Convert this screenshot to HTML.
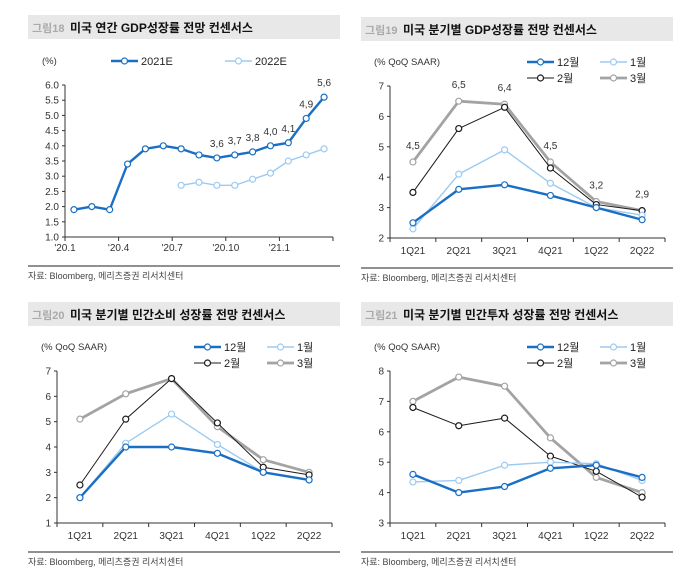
<!DOCTYPE html>
<html><head><meta charset="utf-8">
<style>
body{margin:0;background:#fff;}
svg{display:block;font-family:"Liberation Sans","Noto Sans CJK KR",sans-serif;}
</style></head>
<body>
<svg id="c" width="695" height="588" viewBox="0 0 695 588"></svg>
<script>
// Chart 18: annual GDP growth consensus
const c18Months = ["'20.1","","","'20.4","","","'20.7","","","'20.10","","","'21.1","",""];
const c18y2021 = [1.9,2.0,1.9,3.4,3.9,4.0,3.9,3.7,3.6,3.7,3.8,4.0,4.1,4.9,5.6];
const c18y2022 = [null,null,null,null,null,null,2.7,2.8,2.7,2.7,2.9,3.1,3.5,3.7,3.9];
const c18Labels = ["","","","","","","","","3,6","3,7","3,8","4,0","4,1","4,9","5,6"];
const c18Ticks = [1.0,1.5,2.0,2.5,3.0,3.5,4.0,4.5,5.0,5.5,6.0];
// Quarterly charts
const quarters = ["1Q21","2Q21","3Q21","4Q21","1Q22","2Q22"];
const c19Dec = [2.5,3.6,3.75,3.4,3.0,2.6];
const c19Jan = [2.3,4.1,4.9,3.8,3.0,2.75];
const c19Feb = [3.5,5.6,6.3,4.3,3.1,2.9];
const c19Mar = [4.5,6.5,6.4,4.5,3.2,2.9];
const c19Labels = ["4,5","6,5","6,4","4,5","3,2","2,9"];
const c19Ticks = [2,3,4,5,6,7];
const c20Dec = [2.0,4.0,4.0,3.75,3.0,2.7];
const c20Jan = [2.0,4.15,5.3,4.1,3.0,2.7];
const c20Feb = [2.5,5.1,6.7,4.95,3.2,2.9];
const c20Mar = [5.1,6.1,6.7,4.8,3.5,3.0];
const c20Ticks = [1,2,3,4,5,6,7];
const c21Dec = [4.6,4.0,4.2,4.8,4.9,4.5];
const c21Jan = [4.35,4.4,4.9,5.0,4.95,4.4];
const c21Feb = [6.8,6.2,6.45,5.2,4.7,3.85];
const c21Mar = [7.0,7.8,7.5,5.8,4.5,4.0];
const c21Ticks = [3,4,5,6,7,8];

const NS="http://www.w3.org/2000/svg";
const svg=document.getElementById('c');
function el(tag,attrs,parent){const e=document.createElementNS(NS,tag);for(const k in attrs)e.setAttribute(k,attrs[k]);(parent||svg).appendChild(e);return e;}
function txt(x,y,s,attrs,parent){const t=el('text',Object.assign({x:x,y:y},attrs),parent);t.textContent=s;return t;}

const DB="#1a6fc4",LB="#9ccbf2",BK="#1a1a1a",GR="#a3a3a3";
const styles={dec:{c:DB,w:2.4},jan:{c:LB,w:1.4},feb:{c:BK,w:1},mar:{c:GR,w:2.8}};

function panel(name,x0,y0,num,title,srcY){
  const g=el('g',{});
  
  
  const bar=el('rect',{x:x0,y:y0,width:312,height:24,fill:'#e8e8e8'},g);
  
  
  const t1=txt(x0+4,y0+17,num,{'font-size':11,fill:'#aaa','font-weight':'bold'},g);
  
  
  const t2=txt(x0+42,y0+17,title,{'font-size':12,fill:'#111','font-weight':'bold'},g);
  
  
  const ln=el('line',{x1:x0,x2:x0+312,y1:srcY,y2:srcY,stroke:'#222','stroke-width':1},g);
  
  
  const s=txt(x0,srcY+13,'자료: Bloomberg, 메리츠증권 리서치센터',{'font-size':9,fill:'#444'},g);
  
  
  return g;
}

function axes(g,L,R,T,B,ymin,ymax,ticks,decimals,cats,tickIdx){
  const ys=v=>B-(v-ymin)/(ymax-ymin)*(B-T);
  const n=cats.length,bw=(R-L)/n;
  const xs=i=>L+bw*(i+0.5);
  el('line',{x1:L,x2:L,y1:T,y2:B,stroke:'#333','stroke-width':1},g);
  el('line',{x1:L,x2:R,y1:B,y2:B,stroke:'#333','stroke-width':1},g);
  ticks.forEach(v=>{
    el('line',{x1:L-3,x2:L,y1:ys(v),y2:ys(v),stroke:'#333'},g);
    const t=txt(L-6,ys(v)+3.5,v.toFixed(decimals),{'font-size':10,fill:'#333','text-anchor':'end'},g);
    
    
  });
  if(tickIdx){
    tickIdx.forEach(i=>{const x=L+bw*i;el('line',{x1:x,x2:x,y1:B,y2:B+4,stroke:'#333'},g);});
    cats.forEach((c,i)=>{if(c){const t=txt(L+bw*i,B+14,c,{'font-size':10,fill:'#333','text-anchor':'middle'},g);
      
      }});
  }else{
    for(let i=0;i<=n;i++){const x=L+bw*i;el('line',{x1:x,x2:x,y1:B,y2:B+4,stroke:'#333'},g);}
    cats.forEach((c,i)=>{const t=txt(xs(i),B+16,c,{'font-size':10,fill:'#333','text-anchor':'middle'},g);
      
      });
  }
  return {xs,ys};
}

function series(g,vals,st,xs,ys,name){
  const pts=[];vals.forEach((v,i)=>{if(v!=null)pts.push([xs(i),ys(v)]);});
  const p=el('polyline',{points:pts.map(p=>p.join(',')).join(' '),fill:'none',stroke:st.c,'stroke-width':st.w,'stroke-linejoin':'round'},g);
  
  
  pts.forEach(q=>{const m=el('circle',{cx:q[0],cy:q[1],r:3,fill:'#fff',stroke:st.c,'stroke-width':1.2},g);
    
    });
}

function legendItem(g,x,y,st,label,name){
  const lg=el('g',{},g);
  
  
  el('line',{x1:x,x2:x+27,y1:y,y2:y,stroke:st.c,'stroke-width':st.w},lg);
  el('circle',{cx:x+13.5,cy:y,r:3,fill:'#fff',stroke:st.c,'stroke-width':1.2},lg);
  txt(x+30,y+4,label,{'font-size':11,fill:'#222'},lg);
}

// ---- Chart 18
(function(){
  const g=panel('chart-annual-gdp',28,15,'그림18','미국 연간 GDP성장률 전망 컨센서스',266);
  const a=axes(g,65,333,85,237,1.0,6.0,c18Ticks,1,c18Months,[0,3,6,9,12,15]);
  const yt=txt(42,64,'(%)',{'font-size':9.5,fill:'#333'},g);
  
  series(g,c18y2022,{c:LB,w:1.4},a.xs,a.ys,'series-2022e');
  series(g,c18y2021,{c:DB,w:2.4},a.xs,a.ys,'series-2021e');
  c18Labels.forEach((s,i)=>{if(s){const t=txt(a.xs(i),a.ys(c18y2021[i])-11,s,{'font-size':10,fill:'#333','text-anchor':'middle'},g);
    }});
  legendItem(g,111,61,{c:DB,w:2.4},'2021E','legend-2021e');
  legendItem(g,225,61,{c:LB,w:1.4},'2022E','legend-2022e');
})();

function quarterly(name,x0,y0,num,title,srcY,T,B,ticks,decArr,jan,feb,mar,labels){
  const g=panel(name,x0,y0,num,title,srcY);
  const L=x0+29,R=x0+304;
  const a=axes(g,L,R,T,B,ticks[0],ticks[ticks.length-1],ticks,0,quarters,null);
  const yt=txt(x0+13,T-21,'(% QoQ SAAR)',{'font-size':9.5,fill:'#333'},g);
  
  series(g,mar,styles.mar,a.xs,a.ys,'series-march');
  series(g,feb,styles.feb,a.xs,a.ys,'series-february');
  series(g,jan,styles.jan,a.xs,a.ys,'series-january');
  series(g,decArr,styles.dec,a.xs,a.ys,'series-december');
  if(labels)labels.forEach((s,i)=>{const t=txt(a.xs(i),a.ys(mar[i])-13,s,{'font-size':10,fill:'#333','text-anchor':'middle'},g);
    });
  const ly=T-24;
  legendItem(g,x0+166,ly,styles.dec,'12월','legend-december');
  legendItem(g,x0+239,ly,styles.jan,'1월','legend-january');
  legendItem(g,x0+166,ly+16,styles.feb,'2월','legend-february');
  legendItem(g,x0+239,ly+16,styles.mar,'3월','legend-march');
  return g;
}
quarterly('chart-quarterly-gdp',361,17,'그림19','미국 분기별 GDP성장률 전망 컨센서스',268,86,238,c19Ticks,c19Dec,c19Jan,c19Feb,c19Mar,c19Labels);
quarterly('chart-quarterly-consumption',28,302,'그림20','미국 분기별 민간소비 성장률 전망 컨센서스',552,371,523,c20Ticks,c20Dec,c20Jan,c20Feb,c20Mar,null);
quarterly('chart-quarterly-investment',361,302,'그림21','미국 분기별 민간투자 성장률 전망 컨센서스',552,371,523,c21Ticks,c21Dec,c21Jan,c21Feb,c21Mar,null);
</script>
</body></html>
